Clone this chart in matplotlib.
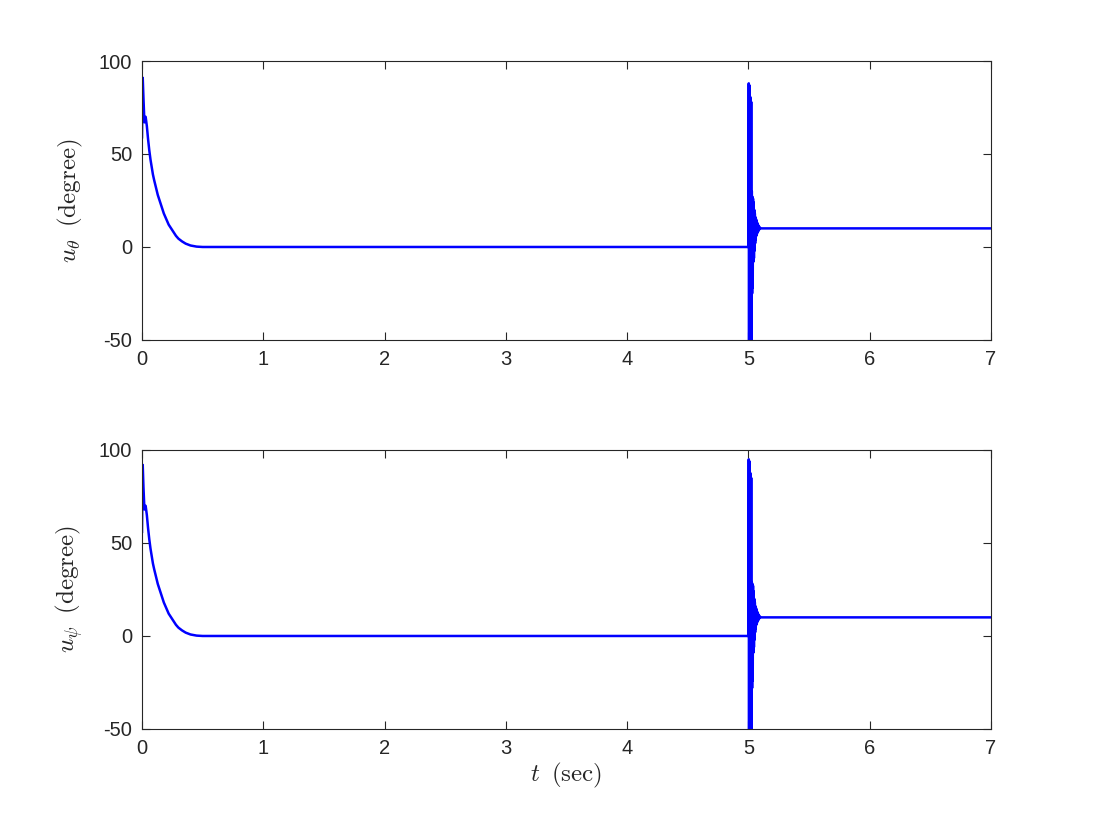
import matplotlib
matplotlib.use("Agg")
import matplotlib.pyplot as plt

plt.rcParams['font.family'] = ['Liberation Sans', 'DejaVu Sans']
plt.rcParams['mathtext.fontset'] = 'cm'
plt.rcParams['axes.unicode_minus'] = False

# --- data ---
t_start = [0.0, 0.006, 0.012, 0.02, 0.03, 0.04, 0.05, 0.06, 0.07, 0.08, 0.09,
           0.10, 0.115, 0.13, 0.145, 0.16, 0.18, 0.20, 0.22, 0.24, 0.26,
           0.28, 0.30, 0.33, 0.36, 0.40, 0.45, 0.50]
u_theta_start = [59, 91, 80, 67, 70, 65, 58, 52, 47, 43, 39,
                 36, 32, 28, 25, 22, 18, 15, 12, 10, 8,
                 6, 4.5, 3, 1.8, 0.8, 0.2, 0]
u_psi_start = [56, 92, 80, 68, 70, 65, 58, 52, 47, 43, 39,
               36, 32, 28, 25, 22, 18, 15, 12, 10, 8,
               6, 4.5, 3, 1.8, 0.8, 0.2, 0]

t_osc = [5.0, 5.0025, 5.005, 5.0075, 5.01, 5.0125, 5.015, 5.0175, 5.02, 5.0225,
         5.025, 5.0275, 5.03, 5.0325, 5.035, 5.0375, 5.04, 5.0425, 5.045, 5.0475,
         5.05, 5.0525, 5.055, 5.0575, 5.06, 5.0625, 5.065, 5.0675, 5.07, 5.0725,
         5.075, 5.0775, 5.08, 5.0825, 5.085, 5.0875, 5.09, 5.095, 5.1, 7.0]
u_theta_osc = [0, 88, -60, 87, -60, 81, -60, 80, -55, 78,
               -50, 30, -25, 27, -22, 26, -8, 24, -6, 20,
               -2, 18, 2, 16, 4, 15, 6, 14, 7, 13,
               8, 12, 8.5, 11.5, 9, 11, 9.5, 10.3, 10, 10]
u_psi_osc = [0, 95, -60, 94, -60, 88, -60, 87, -55, 85,
             -50, 29, -28, 28, -24, 27, -9, 24, -6, 20,
             -2, 18, 2, 16, 4, 15, 6, 14, 7, 13,
             8, 12, 8.5, 11.5, 9, 11, 9.5, 10.3, 10, 10]

t_all = t_start + t_osc
u_theta = u_theta_start + u_theta_osc
u_psi = u_psi_start + u_psi_osc

xticks = [0, 1, 2, 3, 4, 5, 6, 7]
yticks = [-50, 0, 50, 100]

fig = plt.figure(figsize=(10.94, 8.21), dpi=100)
ax1 = fig.add_axes([0.1298, 0.5859, 0.7761, 0.3398])
ax2 = fig.add_axes([0.1298, 0.1121, 0.7761, 0.3398])

for ax, u, lab in [(ax1, u_theta, r'$u_{\theta}\;\;\mathrm{(degree)}$'),
                   (ax2, u_psi, r'$u_{\psi}\;\;\mathrm{(degree)}$')]:
    ax.plot(t_all, u, color='#0000ff', lw=1.8)
    ax.set_xlim(0, 7)
    ax.set_ylim(-50, 100)
    ax.set_xticks(xticks)
    ax.set_yticks(yticks)
    ax.tick_params(direction='in', top=True, right=True, labelsize=14.5,
                   colors='#262626', length=6, width=0.8, pad=7)
    for s in ax.spines.values():
        s.set_color('#262626')
        s.set_linewidth(0.8)
    ax.set_ylabel(lab, fontsize=18, color='#262626', labelpad=10)

ax2.set_xlabel(r'$t\;\;\mathrm{(sec)}$', fontsize=18, color='#262626', labelpad=2)

fig.savefig('out.png', dpi=100)
